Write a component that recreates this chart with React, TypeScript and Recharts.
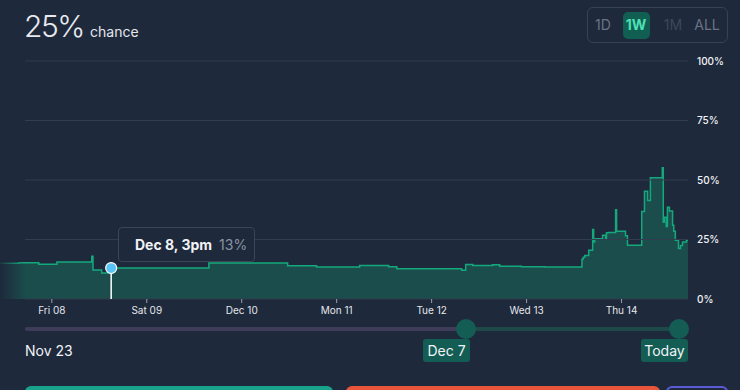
import React from "react";
import {
  AreaChart,
  Area,
  XAxis,
  YAxis,
  Tooltip,
  ReferenceLine,
  ReferenceDot,
} from "recharts";

// hours since Dec 8, 00:00
const times = [
  -13.1, -8.3, -3.3, 1.3, 10.1, 10.4, 12.6, 15.0, 39.7, 59.6, 66.9, 77.8, 85.1,
  87.2, 103.6, 104.6, 106.4, 111.4, 113.2, 118.7, 124.5, 134.0, 134.3, 134.7,
  135.7, 136.7, 136.95, 137.2, 137.4, 139.2, 140.0, 140.2, 140.7, 142.5, 142.75,
  145.0, 145.5, 149.1, 149.8, 150.6, 151.3, 154.3, 154.55, 154.8, 155.3, 155.6,
  156.1, 156.9, 157.2, 157.6, 158.4, 158.9, 159.4, 160.4, 160.8,
];
const chance = [
  15.0, 15.2, 14.6, 15.5, 18.0, 12.2, 10.9, 13.0, 15.1, 14.0, 13.4, 14.1, 13.6,
  12.7, 12.1, 14.5, 14.1, 14.4, 13.8, 13.6, 13.4, 16.7, 17.5, 18.3, 20.5, 29.2,
  24.0, 25.0, 25.3, 26.8, 25.5, 27.8, 27.9, 37.5, 28.5, 26.6, 22.6, 36.8, 45.3,
  41.4, 50.9, 55.1, 32.3, 34.4, 30.5, 38.6, 37.0, 31.0, 28.5, 24.7, 21.2, 22.5,
  24.0, 24.7, 24.7,
];
const xTicks = [0, 24, 48, 72, 96, 120, 144];
const xTickLabels = ["Fri 08", "Sat 09", "Dec 10", "Mon 11", "Tue 12", "Wed 13", "Thu 14"];
const yTicks = [0, 25, 50, 75, 100];
const ranges = ["1D", "1W", "1M", "ALL"];
const activeIndex = 7;
const tooltipLabel = "Dec 8, 3pm";

const data = times.map((t, i) => ({ t, v: chance[i] }));

const BG = "#1e293b";
const GRID = "#343d4f";
const X_MIN = -13.1;
const X_MAX = 160.8;
const GRID_START = -6.8;
const FONT = "Inter, 'Noto Sans', sans-serif";

const TipContent = () => (
  <div
    style={{
      width: 137,
      height: 35,
      border: "1px solid #3c4458",
      borderRadius: 4,
      background: BG,
      display: "flex",
      alignItems: "center",
      paddingLeft: 16,
      boxSizing: "border-box",
      fontFamily: FONT,
      fontSize: 14,
      whiteSpace: "nowrap",
    }}
  >
    <span style={{ color: "#f1f3f6", fontWeight: 700 }}>{tooltipLabel}</span>
    <span style={{ color: "#8b93a3", marginLeft: 7 }}>{chance[activeIndex].toFixed(0)}%</span>
  </div>
);

export default function App() {
  return (
    <div
      style={{
        position: "fixed",
        left: 0,
        top: 0,
        width: 740,
        height: 390,
        background: BG,
        overflow: "hidden",
        fontFamily: FONT,
      }}
    >
      {/* header */}
      <div
        style={{
          position: "absolute",
          left: 24,
          top: 8,
          color: "#e8eaf0",
          fontSize: 30,
          fontWeight: 300,
          letterSpacing: -1.5,
        }}
      >
        25%
      </div>
      <div style={{ position: "absolute", left: 90, top: 23, color: "#e5e7eb", fontSize: 14 }}>chance</div>

      {/* range buttons */}
      <div
        style={{
          position: "absolute",
          left: 587,
          top: 7,
          width: 141,
          height: 36,
          border: "1px solid #394255",
          borderRadius: 6,
          boxSizing: "border-box",
        }}
      />
      {ranges.map((r, i) => {
        const centers = [603, 636, 673, 707];
        const colors = ["#6b7385", "#4fe0b5", "#3f4859", "#6b7385"];
        return (
          <div
            key={r}
            style={{
              position: "absolute",
              left: centers[i] - 15,
              width: 30,
              top: 16,
              textAlign: "center",
              fontSize: 14,
              color: colors[i],
              fontWeight: i === 1 ? 700 : 400,
              zIndex: 2,
            }}
          >
            {r}
          </div>
        );
      })}
      <div
        style={{
          position: "absolute",
          left: 623,
          top: 12,
          width: 27,
          height: 27,
          borderRadius: 5,
          background: "#115e52",
          zIndex: 1,
        }}
      />

      {/* chart */}
      <div style={{ position: "absolute", left: 0, top: 0 }}>
        <AreaChart
          width={740}
          height={390}
          data={data}
          margin={{ top: 61, right: 0, left: 0, bottom: 71 }}
        >
          <defs>
            <linearGradient id="fadeFill" x1="0" y1="0" x2="1" y2="0">
              <stop offset="0%" stopColor="#10b981" stopOpacity={0} />
              <stop offset="3.8%" stopColor="#10b981" stopOpacity={0.25} />
              <stop offset="100%" stopColor="#10b981" stopOpacity={0.25} />
            </linearGradient>
            <linearGradient id="fadeStroke" x1="0" y1="0" x2="1" y2="0">
              <stop offset="0%" stopColor="#14a97c" stopOpacity={0.1} />
              <stop offset="3.5%" stopColor="#14a97c" stopOpacity={1} />
              <stop offset="100%" stopColor="#14a97c" stopOpacity={1} />
            </linearGradient>
          </defs>
          <XAxis
            dataKey="t"
            type="number"
            domain={[X_MIN, X_MAX]}
            ticks={xTicks}
            tickFormatter={(v: number) => xTickLabels[xTicks.indexOf(v)] ?? ""}
            axisLine={false}
            tickLine={{ stroke: "#9aa0aa" }}
            tickSize={4}
            tickMargin={4}
            height={20}
            tick={{ fill: "#e5e7eb", fontSize: 10, fontFamily: FONT }}
            allowDataOverflow
          />
          <YAxis
            orientation="right"
            domain={[0, 100]}
            ticks={yTicks}
            tickFormatter={(v: number) => `${v}%`}
            axisLine={false}
            tickLine={false}
            tickSize={0}
            tickMargin={9}
            width={52}
            tick={{ fill: "#f1f3f6", fontSize: 10, fontFamily: FONT, fontWeight: 500 }}
          />
          {yTicks.map((y) => (
            <ReferenceLine
              key={y}
              segment={[
                { x: GRID_START, y },
                { x: X_MAX, y },
              ]}
              stroke={GRID}
              strokeWidth={1}
              ifOverflow="visible"
            />
          ))}
          <Area
            type="stepAfter"
            dataKey="v"
            stroke="url(#fadeStroke)"
            strokeWidth={1.5}
            fill="url(#fadeFill)"
            fillOpacity={1}
            isAnimationActive={false}
            activeDot={false}
            dot={false}
          />
          <ReferenceLine
            segment={[
              { x: times[activeIndex], y: 0 },
              { x: times[activeIndex], y: chance[activeIndex] },
            ]}
            stroke="#ffffff"
            strokeWidth={1.5}
          />
          <ReferenceDot
            x={times[activeIndex]}
            y={chance[activeIndex]}
            r={5.5}
            fill="#5ac4f6"
            stroke="#ffffff"
            strokeWidth={1.2}
          />
          <Tooltip
            defaultIndex={activeIndex}
            active
            cursor={false}
            isAnimationActive={false}
            position={{ x: 118, y: 227 }}
            content={<TipContent />}
            wrapperStyle={{ transition: "none" }}
          />
        </AreaChart>
      </div>

      {/* range slider */}
      <div style={{ position: "absolute", left: 25, top: 327, width: 441, height: 4, borderRadius: 2, background: "#3f3c5a" }} />
      <div style={{ position: "absolute", left: 466, top: 327, width: 213, height: 4, background: "#1d4a48" }} />
      {[466, 679].map((cx) => (
        <div
          key={cx}
          style={{
            position: "absolute",
            left: cx - 10,
            top: 319,
            width: 20,
            height: 20,
            borderRadius: 10,
            background: "#135d54",
          }}
        />
      ))}
      <div style={{ position: "absolute", left: 25, top: 342, color: "#f1f3f6", fontSize: 14 }}>Nov 23</div>
      <div
        style={{
          position: "absolute",
          left: 423,
          top: 339,
          width: 47,
          height: 23,
          borderRadius: 3,
          background: "#135d54",
          color: "#f1f3f6",
          fontSize: 14,
          lineHeight: "23px",
          textAlign: "center",
        }}
      >
        Dec 7
      </div>
      <div
        style={{
          position: "absolute",
          left: 641,
          top: 339,
          width: 47,
          height: 23,
          borderRadius: 3,
          background: "#135d54",
          color: "#f1f3f6",
          fontSize: 14,
          lineHeight: "23px",
          textAlign: "center",
        }}
      >
        Today
      </div>

      {/* bottom buttons (cut off) */}
      <div style={{ position: "absolute", left: 25, top: 386, width: 308, height: 20, borderRadius: 6, background: "#1aa38c" }} />
      <div style={{ position: "absolute", left: 346, top: 386, width: 314, height: 20, borderRadius: 6, background: "#e8553a" }} />
      <div
        style={{
          position: "absolute",
          left: 666,
          top: 386,
          width: 62,
          height: 20,
          borderRadius: 6,
          border: "2px solid #5b5bd6",
          boxSizing: "border-box",
        }}
      />
    </div>
  );
}
